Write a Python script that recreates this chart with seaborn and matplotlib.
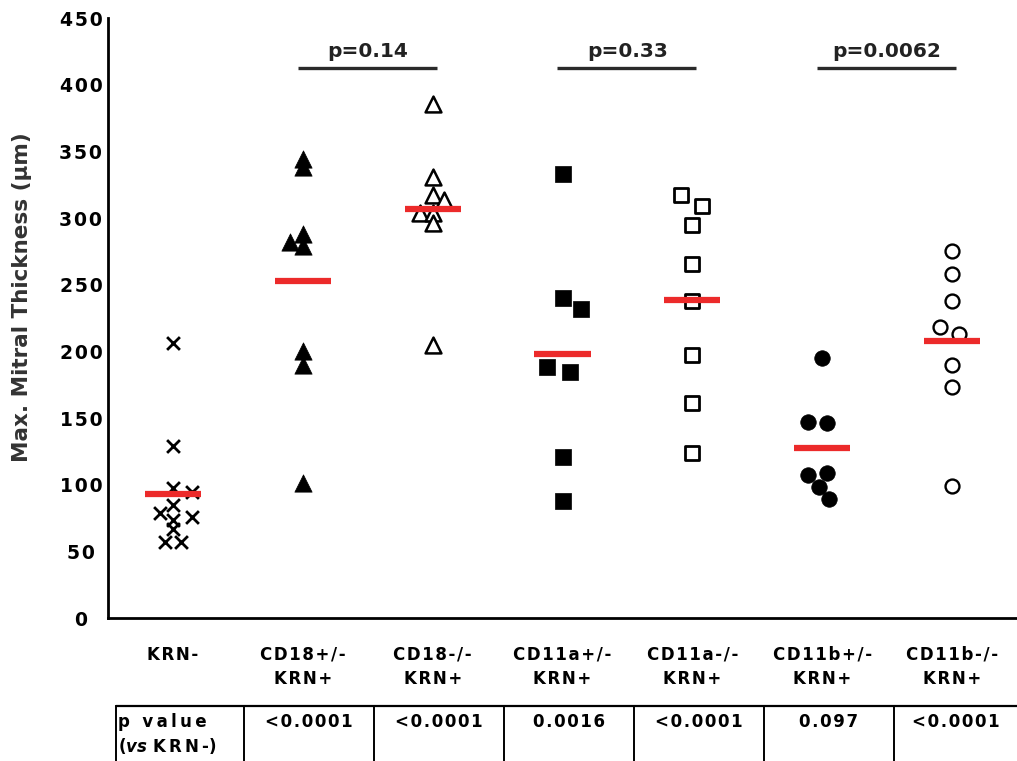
import numpy as np
import pandas as pd
import matplotlib
matplotlib.use("Agg")
import matplotlib.pyplot as plt
import matplotlib.transforms as mtransforms
from matplotlib.lines import Line2D
import seaborn as sns

# ---- data -------------------------------------------------------------
groups = ["KRN-", "CD18+/-", "CD18-/-", "CD11a+/-", "CD11a-/-", "CD11b+/-", "CD11b-/-"]
row2 = ["", "KRN+", "KRN+", "KRN+", "KRN+", "KRN+", "KRN+"]

krn_neg = [206.5, 129.2, 97.5, 94.8, 84.5, 78.5, 76, 73.5, 67, 57, 57]
cd18_het = [344, 338.5, 288, 282, 279, 200.5, 189.5, 101.5]
cd18_ko = [385.5, 330.5, 317, 313.5, 303.5, 303.5, 296, 205]
cd11a_het = [333, 240, 231.5, 188.5, 184.5, 120.5, 88]
cd11a_ko = [317, 309, 295, 265.5, 237.5, 197.5, 161, 124]
cd11b_het = [195, 147, 146.5, 108.5, 107, 98.5, 89]
cd11b_ko = [275.5, 258, 238, 218, 213, 189.5, 173.5, 99]

pair_p = ["p=0.14", "p=0.33", "p=0.0062"]
pairs = [(1, 2), (3, 4), (5, 6)]
p_vs_krn = ["<0.0001", "<0.0001", "0.0016", "<0.0001", "0.097", "<0.0001"]

ytick_vals = list(range(0, 451, 50))

# horizontal nudges (category units) so overlapping symbols stay readable
nudges = {
    "KRN-": [0, 0, 0, 0.15, 0, -0.10, 0.15, 0, 0, -0.06, 0.06],
    "CD18+/-": [0, 0, 0, -0.10, 0, 0, 0, 0],
    "CD18-/-": [0, 0, 0, 0.09, -0.10, 0, 0, 0],
    "CD11a+/-": [0, 0, 0.14, -0.12, 0.06, 0, 0],
    "CD11a-/-": [-0.09, 0.075, 0, 0, 0, 0, 0, 0],
    "CD11b+/-": [0, -0.11, 0.04, 0.04, -0.11, -0.025, 0.055],
    "CD11b-/-": [0, 0, 0, -0.09, 0.057, 0, 0, 0],
}

series = [krn_neg, cd18_het, cd18_ko, cd11a_het, cd11a_ko, cd11b_het, cd11b_ko]
frames = []
for i, (g, vals) in enumerate(zip(groups, series)):
    frames.append(pd.DataFrame({"group": g, "value": vals,
                                "x": i + np.array(nudges[g], dtype=float)}))
df = pd.concat(frames, ignore_index=True)
means = df.groupby("group", sort=False)["value"].mean()

# ---- style ------------------------------------------------------------
sns.set_theme(style="white")
plt.rcParams["font.family"] = ["DejaVu Sans"]
plt.rcParams["text.color"] = "black"
plt.rcParams["mathtext.fontset"] = "custom"
plt.rcParams["mathtext.it"] = "DejaVu Sans:italic:bold"
plt.rcParams["mathtext.rm"] = "DejaVu Sans:bold"

HAIR = "\u200a"
THIN = "\u2009"


def spaced(s, gap=HAIR):
    return gap.join(s)


fig = plt.figure(figsize=(10.17, 7.61), dpi=100)
ax = fig.add_axes([108 / 1017, 143 / 761, 909 / 1017, 600 / 761])

marker_styles = {
    "KRN-": dict(marker="x", s=85, color="black", linewidth=2.0),
    "CD18+/-": dict(marker="^", s=155, color="black", edgecolor="black", linewidth=0.5),
    "CD18-/-": dict(marker="^", s=130, facecolor="white", edgecolor="black", linewidth=1.8),
    "CD11a+/-": dict(marker="s", s=130, color="black", edgecolor="black", linewidth=0.5),
    "CD11a-/-": dict(marker="s", s=100, facecolor="white", edgecolor="black", linewidth=2.0),
    "CD11b+/-": dict(marker="o", s=125, color="black", edgecolor="black", linewidth=0.5),
    "CD11b-/-": dict(marker="o", s=100, facecolor="white", edgecolor="black", linewidth=1.7),
}

for g in groups:
    sub = df[df["group"] == g]
    sns.scatterplot(data=sub, x="x", y="value", ax=ax, legend=False,
                    zorder=3, clip_on=False, **marker_styles[g])

# mean bars
for i, g in enumerate(groups):
    ax.hlines(means[g], i - 0.216, i + 0.216, color="#EC2A2A", lw=4.5, zorder=4)

# axes
ax.set_xlim(-0.5, 6.5)
ax.set_ylim(0, 450)
ax.set_yticks(ytick_vals)
ax.set_yticklabels([spaced(str(v)) for v in ytick_vals], fontsize=13.5,
                   fontweight="bold", ha="center")
ax.set_xticks(range(len(groups)))
ax.set_xticklabels([spaced(a) + ("\n" + spaced(b) if b else "") for a, b in zip(groups, row2)],
                   fontsize=12, fontweight="bold", linespacing=1.45)
ax.tick_params(axis="both", length=0, colors="black")
ax.tick_params(axis="y", pad=19.5)
ax.tick_params(axis="x", pad=20)
ax.set_xlabel("")
ax.set_ylabel("")
for side in ("top", "right"):
    ax.spines[side].set_visible(False)
for side in ("left", "bottom"):
    ax.spines[side].set_linewidth(2.0)
    ax.spines[side].set_color("black")

fig.text(0.022, 0.61, "Max. Mitral Thickness (\u03bcm)", rotation=90,
         ha="center", va="center", fontsize=15.5, fontweight="bold",
         color="#333333")

# pairwise comparison brackets
for (a, b), label in zip(pairs, pair_p):
    ax.plot([a - 0.04, b + 0.03], [412.5, 412.5], color="#2a2a2a", lw=2.4,
            solid_capstyle="butt", clip_on=False)
    ax.text((a + b) / 2, 418, label, ha="center", va="bottom", fontsize=14.5,
            fontweight="bold", color="#222222")

# p value table under the axis
trans = mtransforms.blended_transform_factory(ax.transData, ax.transAxes)
y_top = (618 - 706) / 600
y_bot = (618 - 761) / 600
left_edge = -0.44
bounds = [left_edge] + [i + 0.55 for i in range(6)]
fig.add_artist(Line2D([left_edge, 6.5], [y_top, y_top], transform=trans,
                      color="black", lw=1.6, clip_on=False))
for bx in bounds:
    fig.add_artist(Line2D([bx, bx], [y_top, y_bot], transform=trans,
                          color="black", lw=1.4, clip_on=False))
ax.text(left_edge + 0.02, (618 - 722) / 600, spaced("p value", THIN), transform=trans,
        ha="left", va="center", fontsize=12, fontweight="bold")
ax.text(left_edge + 0.02, (618 - 746) / 600,
        "(" + r"$\mathit{vs}$" + " " + spaced("KRN-", THIN) + ")", transform=trans,
        ha="left", va="center", fontsize=12, fontweight="bold")
edges = bounds + [6.5]
for k, txt in enumerate(p_vs_krn):
    cx = (edges[k + 1] + edges[k + 2]) / 2
    ax.text(cx, (618 - 722) / 600, spaced(txt), transform=trans,
            ha="center", va="center", fontsize=12, fontweight="bold")

fig.savefig("out.png", dpi=100)
